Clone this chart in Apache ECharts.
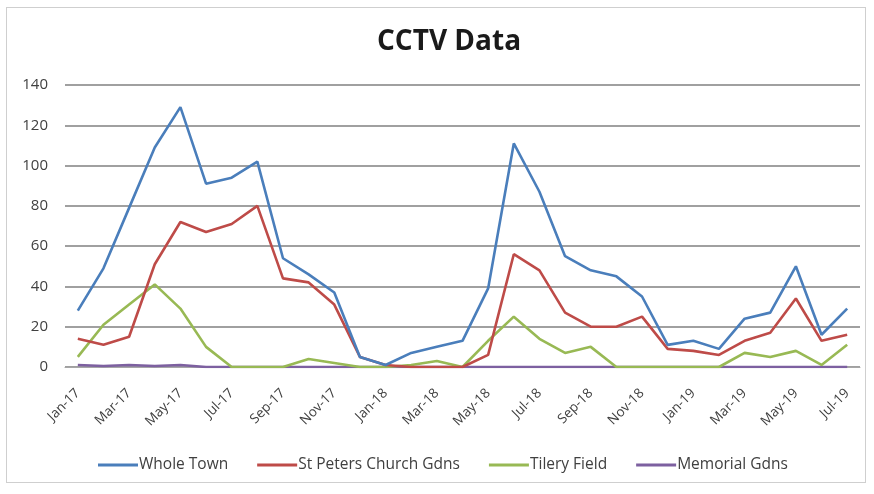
<!DOCTYPE html>
<html>
<head>
<meta charset="utf-8">
<script src="https://cdn.jsdelivr.net/npm/echarts@6/dist/echarts.min.js"></script>
<style>
html,body{margin:0;padding:0;background:#fff;}
#frame{position:absolute;left:6px;top:7px;width:860px;height:476px;border:1px solid #cfcfcf;box-sizing:border-box;}
#chart{position:absolute;left:0;top:0;width:874px;height:494px;}
</style>
</head>
<body>
<div id="frame"></div>
<div id="chart"></div>
<script>
const categories = ["Jan-17","Feb-17","Mar-17","Apr-17","May-17","Jun-17","Jul-17","Aug-17","Sep-17","Oct-17","Nov-17","Dec-17",
  "Jan-18","Feb-18","Mar-18","Apr-18","May-18","Jun-18","Jul-18","Aug-18","Sep-18","Oct-18","Nov-18","Dec-18",
  "Jan-19","Feb-19","Mar-19","Apr-19","May-19","Jun-19","Jul-19"];
const wholeTown = [28,49,79,109,129,91,94,102,54,46,37,5, 1,7,10,13,39,111,87,55,48,45,35,11, 13,9,24,27,50,16,29];
const stPeters  = [14,11,15,51,72,67,71,80,44,42,31,5, 1,0,0,0,6,56,48,27,20,20,25,9, 8,6,13,17,34,13,16];
const tileryField = [5,21,31,41,29,10,0,0,0,4,2,0, 0,1,3,0,13,25,14,7,10,0,0,0, 0,0,7,5,8,1,11];
const memorialGdns = [1,0.5,1,0.5,1,0,0,0,0,0,0,0, 0,0,0,0,0,0,0,0,0,0,0,0, 0,0,0,0,0,0,0];
const seriesNames = ["Whole Town","St Peters Church Gdns","Tilery Field","Memorial Gdns"];
const yTicks = {min:0, max:140, interval:20};

const colors = ["#4A7EBB","#BE4B48","#98B954","#7D60A0"];
const chart = echarts.init(document.getElementById('chart'), null, {renderer:'canvas'});
const dataSets = [wholeTown, stPeters, tileryField, memorialGdns];
chart.setOption({
  animation:false,
  backgroundColor:'transparent',
  title:{text:'CCTV Data', left:372, top:23,
    textStyle:{fontFamily:'Open Sans', fontWeight:'bold', fontSize:28, color:'#1a1a1a'}},
  legend:{top:452, left:93, itemWidth:40, itemHeight:3, itemGap:29,
    icon:'rect',
    textStyle:{fontFamily:'Open Sans', fontSize:15.5, color:'#404040', padding:[0,0,0,-4]},
    data:seriesNames},
  grid:{left:65, right:14, top:85, bottom:127, containLabel:false},
  xAxis:{type:'category', data:categories, boundaryGap:true,
    axisLine:{lineStyle:{color:'#a6a6a6', width:1}},
    axisTick:{show:false},
    axisLabel:{interval:1, rotate:45, fontFamily:'Open Sans', fontSize:13.5, color:'#404040', margin:24}},
  yAxis:{type:'value', min:yTicks.min, max:yTicks.max, interval:yTicks.interval,
    axisLine:{show:false}, axisTick:{show:false},
    splitLine:{lineStyle:{color:'#a0a0a0', width:2}},
    axisLabel:{fontFamily:'Open Sans', fontSize:15, color:'#404040', margin:17}},
  series: seriesNames.map((n,i)=>({
    name:n, type:'line', data:dataSets[i], symbol:'none',
    lineStyle:{color:colors[i], width:2.6}, itemStyle:{color:colors[i]},
    z: 10 - i
  }))
});
</script>
</body>
</html>
